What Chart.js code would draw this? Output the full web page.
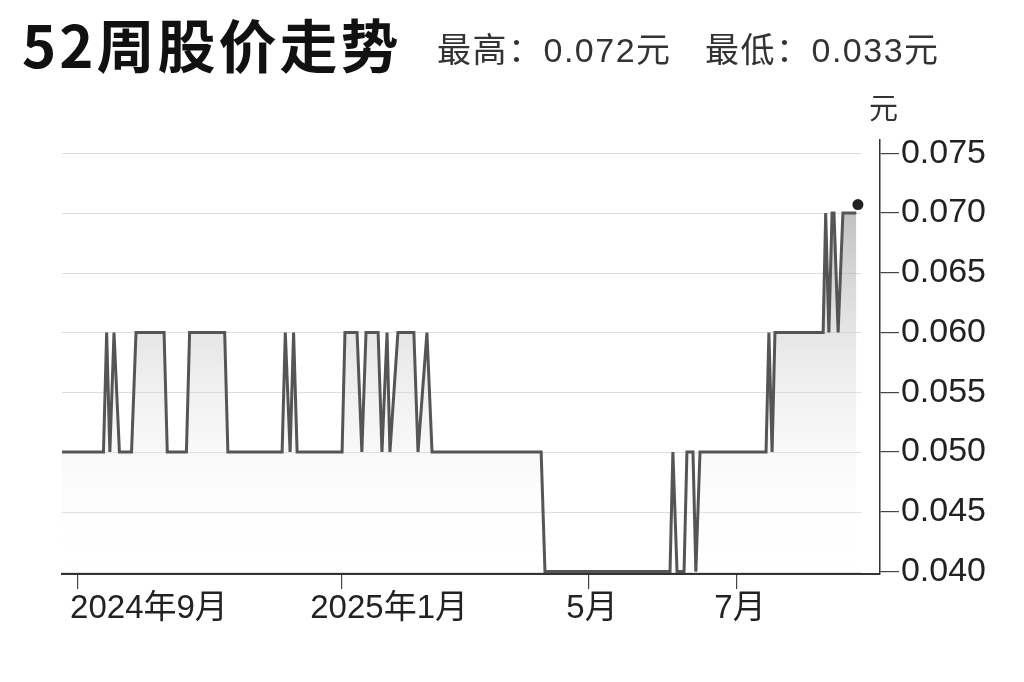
<!DOCTYPE html>
<html lang="zh">
<head>
<meta charset="utf-8">
<script src="https://cdn.jsdelivr.net/npm/chart.js@4/dist/chart.umd.min.js"></script>
<style>
  html, body { margin: 0; padding: 0; background: #fff; }
  #wrap { position: relative; width: 1024px; height: 682px; overflow: hidden; }
  #chart { position: absolute; left: 0; top: 0; }
  .title {
    position: absolute; left: 22px; top: 14px;
    font-family: "Noto Sans CJK SC", sans-serif; font-weight: 700;
    font-size: 58px; color: #111; letter-spacing: 3px; line-height: 1;
  }
  .sub {
    position: absolute; top: 33px;
    font-family: "Liberation Sans", "Noto Sans CJK SC", sans-serif;
    font-size: 34px; color: #333; line-height: 1; letter-spacing: 1.5px;
  }
  .unit {
    position: absolute; left: 869px; top: 92px;
    font-family: "Noto Sans CJK SC", sans-serif; font-size: 29px; color: #333; line-height: 1;
  }
</style>
</head>
<body>
<div id="wrap">
  <canvas id="chart" width="1024" height="682"></canvas>
  <div class="title">52周股价走势</div>
  <div class="sub" style="left:437px">最高：0.072元</div>
  <div class="sub" style="left:705px">最低：0.033元</div>
  <div class="unit">元</div>
</div>
<script>
// 交易日序号 与 收盘价（元）
const dayIdx = [0, 13, 14, 15, 16.3, 18, 21.8, 23.2, 32, 33, 39, 40, 51, 52,
  69, 70, 71.5, 72.6, 73.7, 87.8, 88.7, 92.5, 94, 95.3, 99.1, 100.3, 101.9, 102.8,
  105.3, 110.3, 111.6, 114.4, 116, 150.2, 151.4, 190.6, 191.5, 192.8, 195, 195.9,
  197.8, 198.7, 200, 220.7, 221.6, 222.6, 223.5, 238.6, 239.4, 240.4, 241.4, 242,
  243.3, 244.8, 249];
const price = [0.05, 0.05, 0.06, 0.05, 0.06, 0.05, 0.05, 0.06, 0.06, 0.05, 0.05, 0.06, 0.06, 0.05,
  0.05, 0.06, 0.05, 0.06, 0.05, 0.05, 0.06, 0.06, 0.05, 0.06, 0.06, 0.05, 0.06, 0.05,
  0.06, 0.06, 0.05, 0.06, 0.05, 0.05, 0.04, 0.04, 0.05, 0.04, 0.04, 0.05,
  0.05, 0.04, 0.05, 0.05, 0.06, 0.05, 0.06, 0.06, 0.07, 0.06, 0.07, 0.07,
  0.06, 0.07, 0.07];
const latestIdx = [249.5];
const latestPrice = [0.0707];

const xTickPos = [5, 87.5, 165.2, 211.6];
const xTickLabels = ["2024年9月", "2025年1月", "5月", "7月"];
const yTicks = [0.040, 0.045, 0.050, 0.055, 0.060, 0.065, 0.070, 0.075];

// label offsets relative to tick (px), as in the original picture
const xLabelShift = [71, 48, 3, 3];

const gridPlugin = {
  id: "gridLines",
  beforeDatasetsDraw(chart) {
    const { ctx, chartArea, scales } = chart;
    ctx.save();
    ctx.strokeStyle = "#dedede";
    ctx.lineWidth = 1.2;
    yTicks.forEach((v) => {
      const y = Math.round(scales.y.getPixelForValue(v)) + 0.5;
      ctx.beginPath();
      ctx.moveTo(chartArea.left, y);
      ctx.lineTo(chartArea.right - 19, y);
      ctx.stroke();
    });
    ctx.restore();
  }
};

const xLabelPlugin = {
  id: "xLabels",
  afterDraw(chart) {
    const { ctx, chartArea, scales } = chart;
    ctx.save();
    ctx.fillStyle = "#222";
    ctx.font = '33px "Liberation Sans", "Noto Sans CJK SC", sans-serif';
    ctx.textAlign = "center";
    ctx.textBaseline = "middle";
    xTickPos.forEach((v, i) => {
      const x = scales.x.getPixelForValue(v) + xLabelShift[i];
      ctx.fillText(xTickLabels[i], x, chartArea.bottom + 35);
    });
    ctx.restore();
  }
};

const ctx = document.getElementById("chart").getContext("2d");

new Chart(ctx, {
  type: "line",
  data: {
    datasets: [
      {
        data: dayIdx.map((d, i) => ({ x: d, y: price[i] })),
        borderColor: "#555",
        borderWidth: 3,
        tension: 0,
        pointRadius: 0,
        fill: "start",
        backgroundColor: (c) => {
          const area = c.chart.chartArea;
          if (!area) return "rgba(200,200,200,0.3)";
          const g = c.chart.ctx.createLinearGradient(0, area.top, 0, area.bottom);
          g.addColorStop(0, "rgba(140,140,140,0.8)");
          g.addColorStop(0.45, "rgba(200,200,200,0.45)");
          g.addColorStop(1, "rgba(255,255,255,0)");
          return g;
        }
      },
      {
        data: latestIdx.map((d, i) => ({ x: d, y: latestPrice[i] })),
        showLine: false,
        pointRadius: 5.5,
        pointBackgroundColor: "#222",
        pointBorderWidth: 0
      }
    ]
  },
  options: {
    responsive: false,
    animation: false,
    events: [],
    layout: { padding: { left: 62, right: 36, top: 140, bottom: 93 } },
    plugins: { legend: { display: false }, tooltip: { enabled: false } },
    scales: {
      x: {
        type: "linear",
        min: 0,
        max: 256.4,
        afterBuildTicks: (s) => { s.ticks = xTickPos.map((v) => ({ value: v })); },
        ticks: { display: false },
        grid: { drawOnChartArea: false, drawTicks: true, tickLength: 15, color: "#444", lineWidth: 1.2 },
        border: { display: true, color: "#333", width: 2 }
      },
      y: {
        type: "linear",
        position: "right",
        min: 0.0398,
        max: 0.0761,
        afterBuildTicks: (s) => { s.ticks = yTicks.map((v) => ({ value: v })); },
        ticks: {
          color: "#222",
          padding: 2,
          font: { family: '"Liberation Sans", sans-serif', size: 34 },
          callback: (v) => v.toFixed(3)
        },
        grid: { drawOnChartArea: false, drawTicks: true, tickLength: 19, color: "#444", lineWidth: 1.2 },
        border: { display: true, color: "#333", width: 1.5 }
      }
    }
  },
  plugins: [gridPlugin, xLabelPlugin]
});
</script>
</body>
</html>
